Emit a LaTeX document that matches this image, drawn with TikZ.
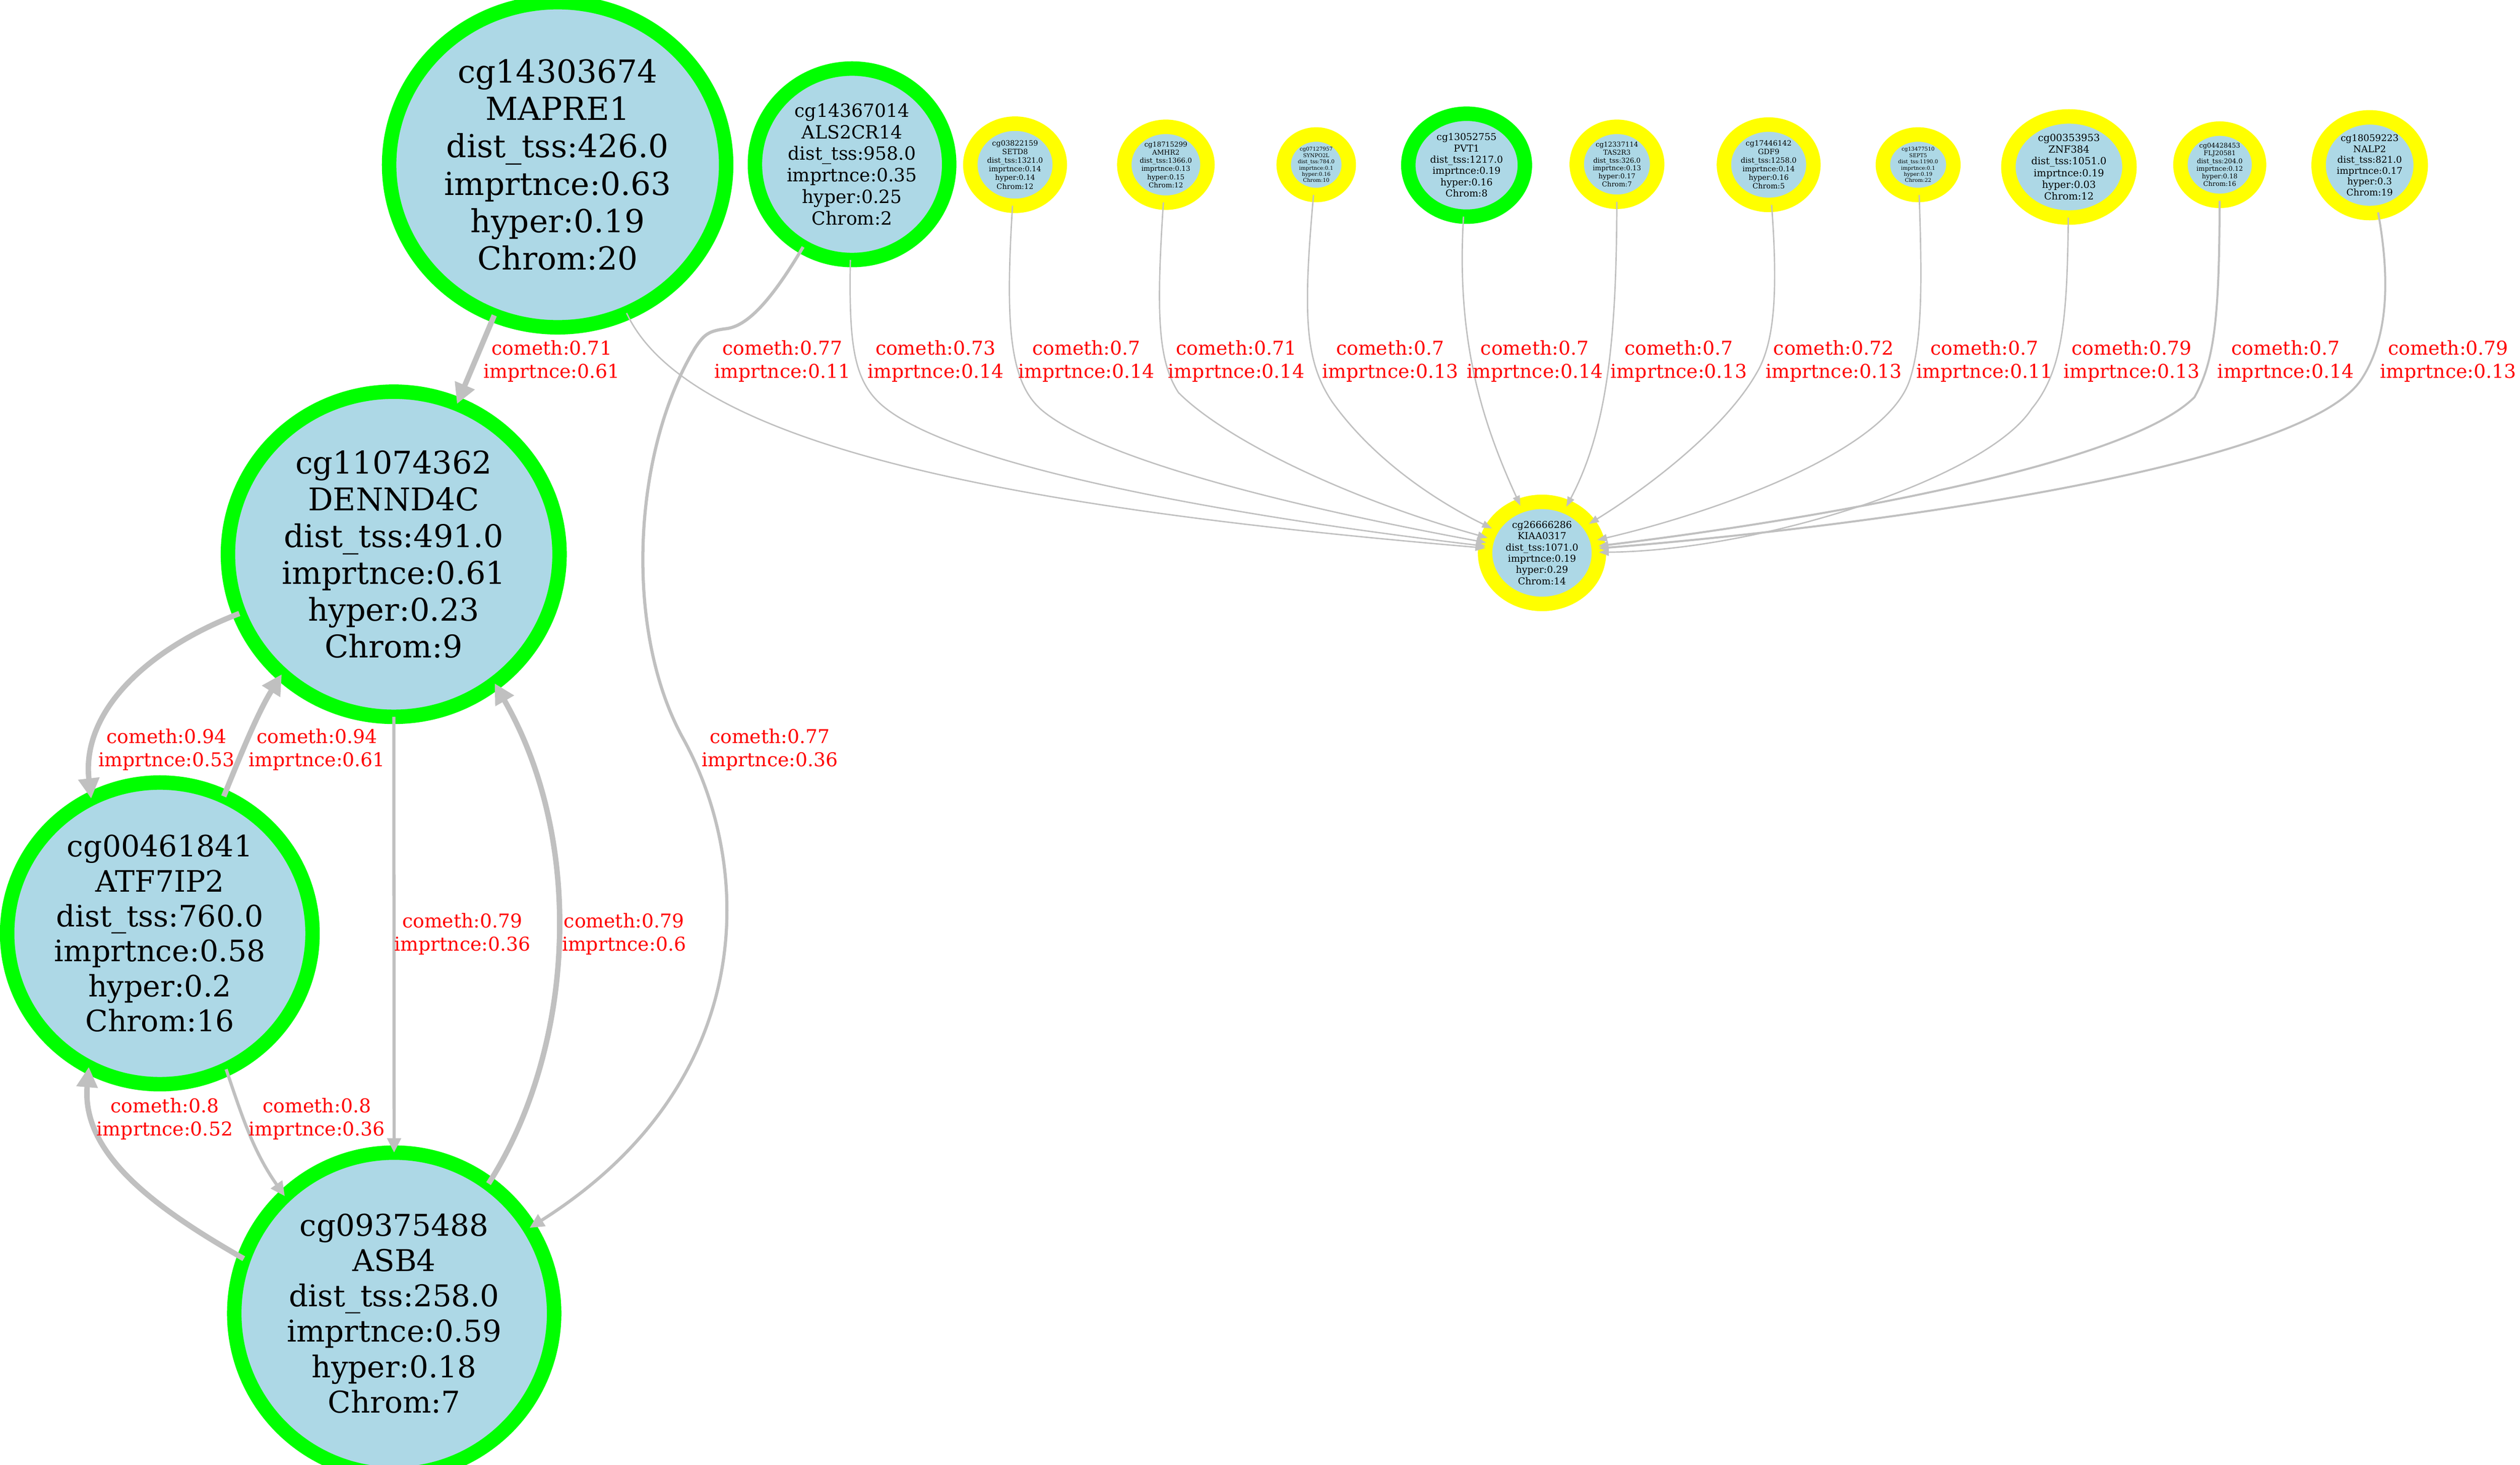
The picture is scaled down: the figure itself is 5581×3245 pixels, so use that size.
\documentclass[tikz,border=0pt]{standalone}
\usepackage{fontspec}
\setmainfont{DejaVu Serif}
\usetikzlibrary{shapes.geometric,arrows.meta}
\definecolor{cpgblue}{HTML}{ADD8E6}
\definecolor{ringgreen}{HTML}{00FF00}
\definecolor{ringyellow}{HTML}{FFFF00}
\definecolor{linkgray}{HTML}{C0C0C0}
\begin{document}
\begin{tikzpicture}[x=0.01cm,y=-0.01cm,
	cpg/.style={ellipse,fill=cpgblue,line width=3.2mm,inner sep=0pt,outer sep=0pt,align=center},
	hot/.style={cpg,draw=ringgreen},
	cold/.style={cpg,draw=ringyellow},
	dims/.style 2 args={minimum width=#1cm,minimum height=#2cm},
	fs/.style 2 args={font=\fontsize{#1pt}{#2pt}\selectfont},
	link/.style={draw=linkgray,line width=0.3mm,-{Triangle[length=2.2mm,width=1.6mm]}},
	midlink/.style={link,line width=0.7mm,-{Triangle[length=3.2mm,width=3mm]}},
	boldlink/.style={link,line width=1.2mm,-{Triangle[length=4.5mm,width=4.5mm]}},
	lbl/.style={text=red,align=center,font=\fontsize{12pt}{14.6pt}\selectfont}]
	\useasboundingbox (0,0) rectangle (5581,3245);

	\node[hot,dims={7.46}{7.20},fs={20}{23.6}] (mapre1) at (1235,365) {cg14303674\\MAPRE1\\dist\_tss:426.0\\imprtnce:0.63\\hyper:0.19\\Chrom:20};
	\node[hot,dims={7.34}{7.20},fs={19.7}{23.2}] (dennd4c) at (872,1228) {cg11074362\\DENND4C\\dist\_tss:491.0\\imprtnce:0.61\\hyper:0.23\\Chrom:9};
	\node[hot,dims={6.76}{6.68},fs={18.6}{22}] (atf7ip2) at (354,2068) {cg00461841\\ATF7IP2\\dist\_tss:760.0\\imprtnce:0.58\\hyper:0.2\\Chrom:16};
	\node[hot,dims={7.08}{7.12},fs={18.9}{22.3}] (asb4) at (873,2910) {cg09375488\\ASB4\\dist\_tss:258.0\\imprtnce:0.59\\hyper:0.18\\Chrom:7};
	\node[hot,dims={4.30}{4.24},fs={11.5}{13.6}] (als2cr14) at (1887,364) {cg14367014\\ALS2CR14\\dist\_tss:958.0\\imprtnce:0.35\\hyper:0.25\\Chrom:2};
	\node[cold,dims={2.52}{2.26},fs={6}{7.1}] (kiaa) at (3415,1225) {cg26666286\\KIAA0317\\dist\_tss:1071.0\\imprtnce:0.19\\hyper:0.29\\Chrom:14};

	\node[cold,dims={1.98}{1.82},fs={4.6}{5.44}] (setd8) at (2248,365) {cg03822159\\SETD8\\dist\_tss:1321.0\\imprtnce:0.14\\hyper:0.14\\Chrom:12};
	\node[cold,dims={1.84}{1.68},fs={4.3}{5.1}] (amhr2) at (2582,365) {cg18715299\\AMHR2\\dist\_tss:1366.0\\imprtnce:0.13\\hyper:0.15\\Chrom:12};
	\node[cold,dims={1.44}{1.34},fs={3.3}{3.95}] (synpo2l) at (2915,365) {cg07127957\\SYNPO2L\\dist\_tss:784.0\\imprtnce:0.1\\hyper:0.16\\Chrom:10};
	\node[hot,dims={2.58}{2.28},fs={6}{7.1}] (pvt1) at (3248,366) {cg13052755\\PVT1\\dist\_tss:1217.0\\imprtnce:0.19\\hyper:0.16\\Chrom:8};
	\node[cold,dims={1.78}{1.66},fs={4.25}{5.0}] (tas2r3) at (3581,364) {cg12337114\\TAS2R3\\dist\_tss:326.0\\imprtnce:0.13\\hyper:0.17\\Chrom:7};
	\node[cold,dims={1.98}{1.78},fs={4.6}{5.4}] (gdf9) at (3917,365) {cg17446142\\GDF9\\dist\_tss:1258.0\\imprtnce:0.14\\hyper:0.16\\Chrom:5};
	\node[cold,dims={1.56}{1.34},fs={3.3}{3.95}] (sept5) at (4248,365) {cg13477510\\SEPT5\\dist\_tss:1190.0\\imprtnce:0.1\\hyper:0.19\\Chrom:22};
	\node[cold,dims={2.68}{2.24},fs={6.2}{7.4}] (znf384) at (4582,370) {cg00353953\\ZNF384\\dist\_tss:1051.0\\imprtnce:0.19\\hyper:0.03\\Chrom:12};
	\node[cold,dims={1.74}{1.60},fs={4.1}{4.85}] (flj20581) at (4916,365) {cg04428453\\FLJ20581\\dist\_tss:204.0\\imprtnce:0.12\\hyper:0.18\\Chrom:16};
	\node[cold,dims={2.26}{2.12},fs={5.8}{6.85}] (nalp2) at (5248,366) {cg18059223\\NALP2\\dist\_tss:821.0\\imprtnce:0.17\\hyper:0.3\\Chrom:19};

	\draw[boldlink] (mapre1) -- (dennd4c);
	\draw[link] (mapre1) .. controls (1530,1000) and (2300,1130) .. (kiaa);
	\draw[midlink] (als2cr14) .. controls (1700,680) and (1650,722) .. (1610,728) .. controls (1570,733) and (1560,740) .. (1540,770) .. controls (1400,1000) and (1380,1400) .. (1515,1640) .. controls (1670,1925) and (1680,2400) .. (asb4);
	\draw[link] (als2cr14) .. controls (1880,760) and (1890,840) .. (1950,895) .. controls (2100,1030) and (2700,1140) .. (kiaa);
	\draw[link] (setd8) .. controls (2226,720) and (2235,850) .. (2310,911) .. controls (2450,1025) and (2900,1130) .. (kiaa);
	\draw[link] (amhr2) .. controls (2560,700) and (2565,800) .. (2610,870) .. controls (2720,980) and (3000,1110) .. (kiaa);
	\draw[link] (synpo2l) .. controls (2885,700) and (2890,800) .. (2950,890) .. controls (3050,1030) and (3200,1120) .. (kiaa);
	\draw[link] (pvt1) .. controls (3225,750) and (3280,930) .. (kiaa);
	\draw[link] (tas2r3) .. controls (3580,750) and (3560,950) .. (kiaa);
	\draw[link] (gdf9) .. controls (3938,650) and (3930,760) .. (3890,827) .. controls (3820,950) and (3650,1080) .. (kiaa);
	\draw[link] (sept5) .. controls (4258,650) and (4255,760) .. (4230,840) .. controls (4180,1000) and (3800,1135) .. (kiaa);
	\draw[link] (znf384) .. controls (4578,700) and (4570,820) .. (4500,905) .. controls (4400,1060) and (3900,1220) .. (kiaa);
	\draw[link,line width=0.45mm] (flj20581) .. controls (4915,700) and (4905,800) .. (4860,880) .. controls (4700,1040) and (3950,1160) .. (kiaa);
	\draw[link,line width=0.45mm] (nalp2) .. controls (5290,600) and (5295,740) .. (5230,840) .. controls (5100,1040) and (4100,1170) .. (kiaa);

	\draw[boldlink] (dennd4c) .. controls (320,1440) and (180,1580) .. (atf7ip2.117);
	\draw[boldlink] (atf7ip2.65) .. controls (530,1680) and (570,1580) .. (dennd4c.227);
	\draw[midlink] (dennd4c) -- (asb4);
	\draw[boldlink] (asb4.54) .. controls (1270,2330) and (1300,1870) .. (dennd4c.308);
	\draw[boldlink] (asb4.160) .. controls (350,2680) and (180,2560) .. (atf7ip2.242);
	\draw[midlink] (atf7ip2.296) .. controls (535,2470) and (560,2550) .. (asb4.133);

	\node[lbl] (l-mapre1-dennd4c) at (1222,800) {cometh:0.71\\imprtnce:0.61};
	\node[lbl] (l-mapre1-kiaa) at (1733,800) {cometh:0.77\\imprtnce:0.11};
	\node[lbl] (l-als2cr14-kiaa) at (2072,800) {cometh:0.73\\imprtnce:0.14};
	\node[lbl] (l-setd8) at (2406,800) {cometh:0.7\\imprtnce:0.14};
	\node[lbl] (l-amhr2) at (2738,800) {cometh:0.71\\imprtnce:0.14};
	\node[lbl] (l-synpo2l) at (3079,800) {cometh:0.7\\imprtnce:0.13};
	\node[lbl] (l-pvt1) at (3399,800) {cometh:0.7\\imprtnce:0.14};
	\node[lbl] (l-tas2r3) at (3718,800) {cometh:0.7\\imprtnce:0.13};
	\node[lbl] (l-gdf9) at (4061,800) {cometh:0.72\\imprtnce:0.13};
	\node[lbl] (l-sept5) at (4395,800) {cometh:0.7\\imprtnce:0.11};
	\node[lbl] (l-znf384) at (4721,800) {cometh:0.79\\imprtnce:0.13};
	\node[lbl] (l-flj20581) at (5062,800) {cometh:0.7\\imprtnce:0.14};
	\node[lbl] (l-nalp2) at (5422,800) {cometh:0.79\\imprtnce:0.13};
	\node[lbl] (l-dennd4c-atf7ip2) at (369,1661) {cometh:0.94\\imprtnce:0.53};
	\node[lbl] (l-atf7ip2-dennd4c) at (702,1661) {cometh:0.94\\imprtnce:0.61};
	\node[lbl] (l-als2cr14-asb4) at (1705,1661) {cometh:0.77\\imprtnce:0.36};
	\node[lbl] (l-dennd4c-asb4) at (1024,2070) {cometh:0.79\\imprtnce:0.36};
	\node[lbl] (l-asb4-dennd4c) at (1382,2070) {cometh:0.79\\imprtnce:0.6};
	\node[lbl] (l-asb4-atf7ip2) at (365,2479) {cometh:0.8\\imprtnce:0.52};
	\node[lbl] (l-atf7ip2-asb4) at (702,2479) {cometh:0.8\\imprtnce:0.36};
\end{tikzpicture}
\end{document}
